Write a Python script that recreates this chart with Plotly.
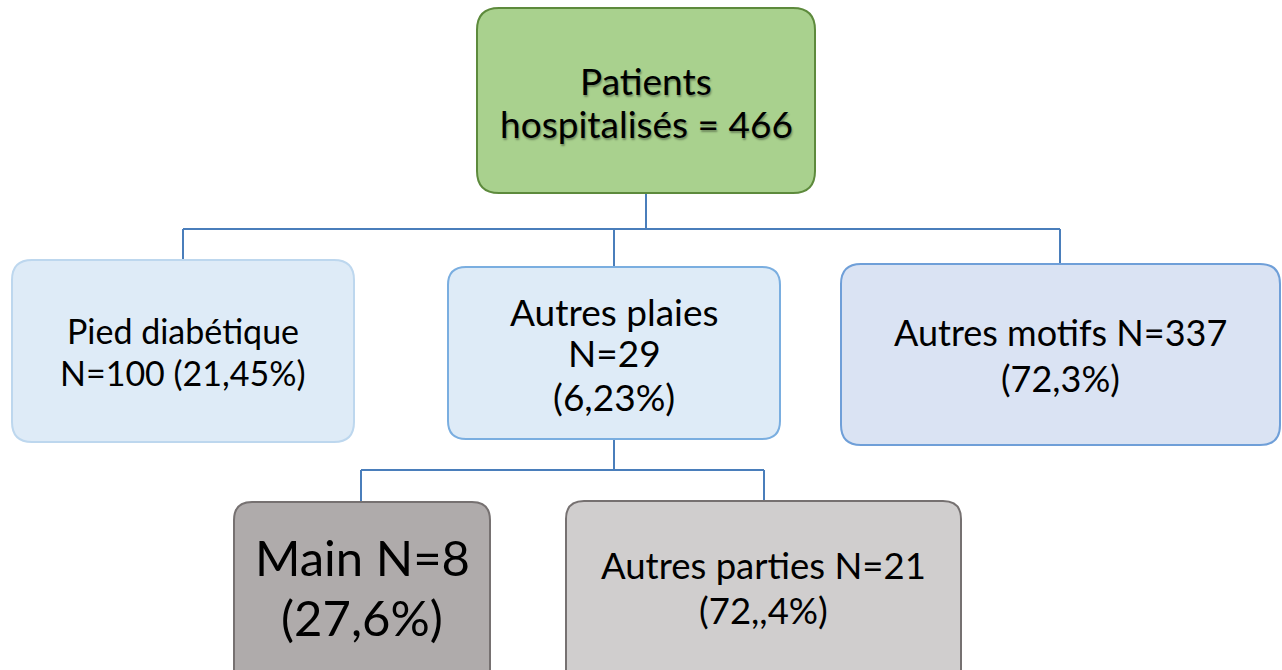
import plotly.graph_objects as go

# ---- data ----
node_names = ["Patients hospitalisés", "Pied diabétique", "Autres plaies", "Autres motifs", "Main", "Autres parties"]
node_counts = [466, 100, 29, 337, 8, 21]
node_pcts = ["", "21,45%", "6,23%", "72,3%", "27,6%", "72,,4%"]

# text lines per node (built from data)
node_lines = [
    ["Patients", f"hospitalisés = {node_counts[0]}"],
    [node_names[1], f"N={node_counts[1]} ({node_pcts[1]})"],
    [node_names[2], f"N={node_counts[2]}", f"({node_pcts[2]})"],
    [f"{node_names[3]} N={node_counts[3]}", f"({node_pcts[3]})"],
    [f"{node_names[4]} N={node_counts[4]}", f"({node_pcts[4]})"],
    [f"{node_names[5]} N={node_counts[5]}", f"({node_pcts[5]})"],
]

# ---- layout (page pixel coordinates) ----
W, H = 1282, 670
boxes = [  # x0, y0, x1, y1, radius
    (477, 8, 815, 193, 22),
    (12, 260, 354, 442, 20),
    (448, 267, 780, 439, 18),
    (841, 264, 1280, 445, 20),
    (234, 502, 490, 690, 18),
    (566, 501, 961, 690, 18),
]
fills = ["#a9d18e", "#deebf7", "#deebf7", "#dae3f3", "#afabab", "#d0cece"]
borders = ["#5d8a3c", "#bdd7ee", "#7aaee0", "#6f9fd8", "#767171", "#767171"]
font_sizes = [37, 34, 37, 36, 49, 36.5]
line_y = [
    [80, 123],
    [330, 372],
    [311, 352, 396],
    [332, 378],
    [557, 617],
    [565, 610],
]

def rrect(x0, y0, x1, y1, r):
    return (f"M {x0+r},{y0} L {x1-r},{y0} Q {x1},{y0} {x1},{y0+r} "
            f"L {x1},{y1-r} Q {x1},{y1} {x1-r},{y1} L {x0+r},{y1} "
            f"Q {x0},{y1} {x0},{y1-r} L {x0},{y0+r} Q {x0},{y0} {x0+r},{y0} Z")

fig = go.Figure()
fig.add_trace(go.Scatter(x=[0, W], y=[0, H], mode="markers", marker=dict(opacity=0),
                         hoverinfo="skip", showlegend=False))

shapes = []
line_col = "#4a7ebb"
conn = [
    (646, 193, 646, 229),
    (183, 229, 1060, 229),
    (183, 229, 183, 260),
    (614, 229, 614, 267),
    (1060, 229, 1060, 264),
    (614, 439, 614, 470),
    (361, 470, 764, 470),
    (361, 470, 361, 502),
    (764, 470, 764, 501),
]
for (a, b, c, d) in conn:
    shapes.append(dict(type="line", x0=a, y0=b, x1=c, y1=d, xref="x", yref="y",
                       line=dict(color=line_col, width=2), layer="below"))

for i, (x0, y0, x1, y1, r) in enumerate(boxes):
    shapes.append(dict(type="path", path=rrect(x0, y0, x1, y1, r), xref="x", yref="y",
                       fillcolor=fills[i], line=dict(color=borders[i], width=2), layer="above"))

annotations = []
for i, lines in enumerate(node_lines):
    xc = (boxes[i][0] + boxes[i][2]) / 2
    for t, y in zip(lines, line_y[i]):
        font = dict(family="Lato, Carlito, Calibri, sans-serif", size=font_sizes[i], color="#000000")
        if i == 0:
            font["shadow"] = "1px 2px 2px rgba(0,0,0,0.35)"
        annotations.append(dict(x=xc, y=y, xref="x", yref="y", text=t, showarrow=False,
                                xanchor="center", yanchor="middle", font=font))

fig.update_layout(
    width=W, height=H,
    margin=dict(l=0, r=0, t=0, b=0),
    paper_bgcolor="white", plot_bgcolor="white",
    xaxis=dict(range=[0, W], visible=False, fixedrange=True),
    yaxis=dict(range=[H, 0], visible=False, fixedrange=True),
    shapes=shapes, annotations=annotations, showlegend=False,
)
fig.write_html("out.html", config={"displayModeBar": False},
               post_script="document.body.style.margin='0';document.body.style.overflow='hidden';")
